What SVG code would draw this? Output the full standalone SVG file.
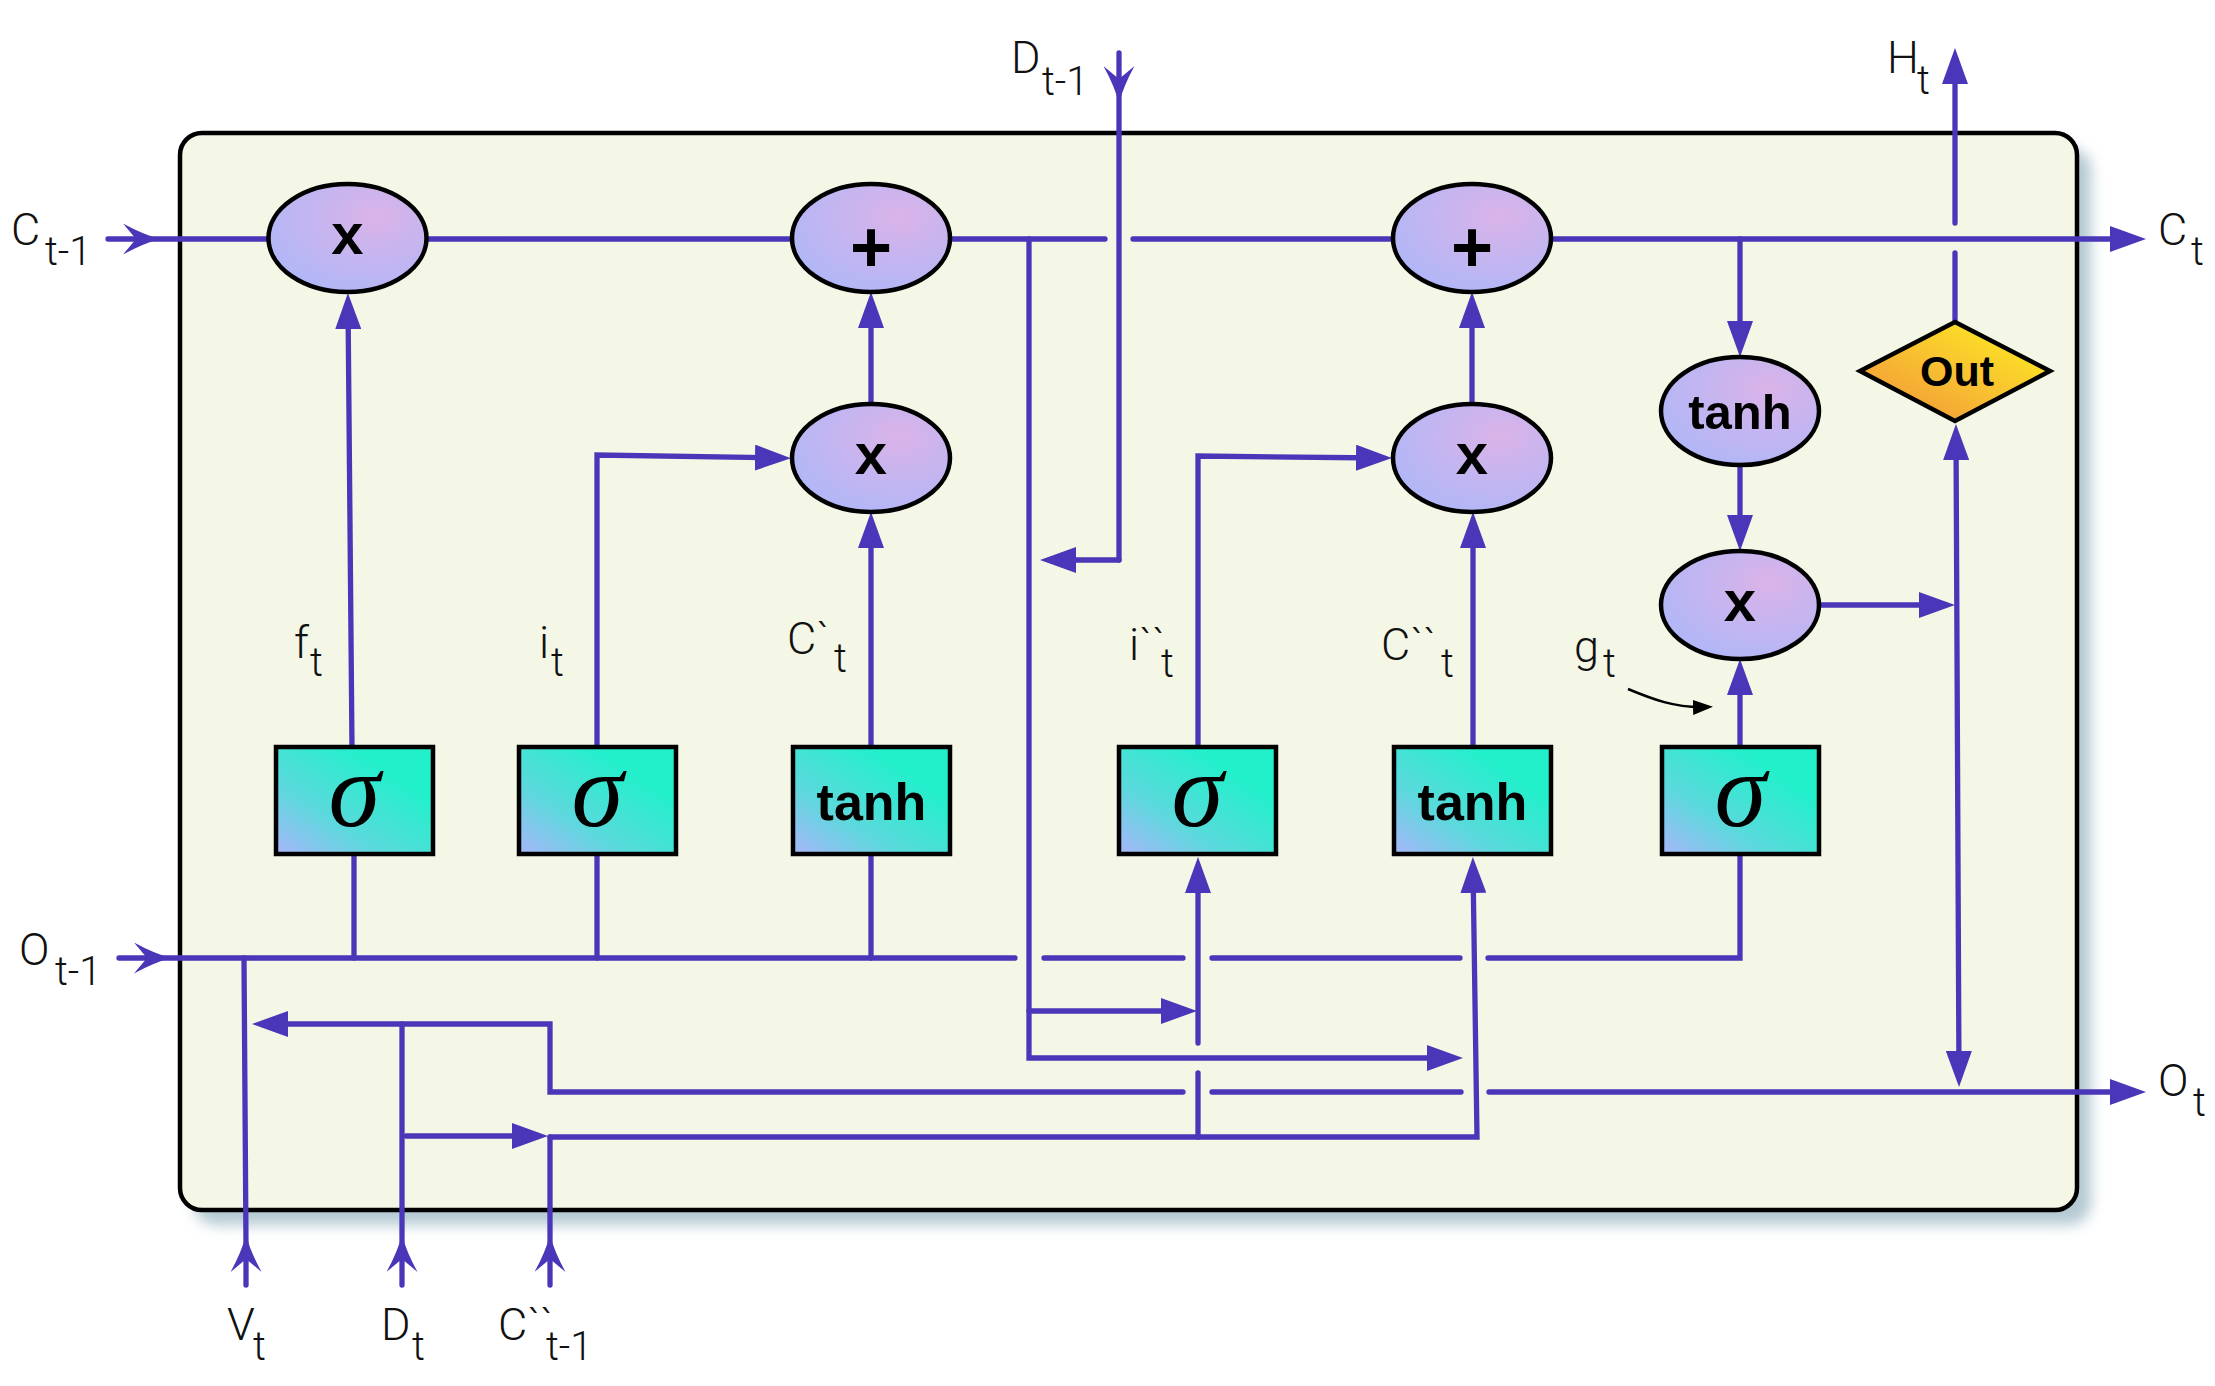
<svg xmlns="http://www.w3.org/2000/svg" width="2215" height="1386" viewBox="0 0 2215 1386">
<style>
.c{fill:none;stroke:#4a36b8;stroke-width:5.3;stroke-linecap:round;stroke-linejoin:miter}
.ell{stroke:#000;stroke-width:4.5;fill:url(#gEll)}
.box{stroke:#000;stroke-width:4.5;fill:url(#gBox)}
.dia{stroke:#000;stroke-width:4.5;fill:url(#gDia)}
.op{font-family:"Liberation Sans",Arial,sans-serif;font-weight:bold;text-anchor:middle;fill:#000}
.sig{font-family:"Liberation Serif","Times New Roman",serif;font-style:italic;font-size:105px;text-anchor:middle;fill:#000}
.lab{font-family:Roboto,"Liberation Sans",sans-serif;font-weight:300;font-size:45px;fill:#111}
.sub{font-size:40px}
</style>
<defs>
<radialGradient id="gEll" cx="0.68" cy="0.3" r="0.8">
<stop offset="0" stop-color="#dab3e8"/>
<stop offset="1" stop-color="#afb7f8"/>
</radialGradient>
<linearGradient id="gBox" x1="0" y1="1" x2="0.75" y2="0.25">
<stop offset="0" stop-color="#a8b6fb"/>
<stop offset="0.45" stop-color="#5bd9dc"/>
<stop offset="1" stop-color="#22f0cb"/>
</linearGradient>
<linearGradient id="gDia" x1="0" y1="1" x2="1" y2="0">
<stop offset="0" stop-color="#f28e3a"/>
<stop offset="0.5" stop-color="#f8c231"/>
<stop offset="1" stop-color="#fff41e"/>
</linearGradient>
<filter id="blur" x="-5%" y="-5%" width="110%" height="110%">
<feGaussianBlur stdDeviation="7"/>
</filter>
<marker id="arr" viewBox="0 0 36 26" markerWidth="36" markerHeight="26" refX="26" refY="13" orient="auto-start-reverse" markerUnits="userSpaceOnUse">
<path d="M0,0 L36,13 L0,26 Z" fill="#4a36b8"/>
</marker>
<marker id="stl" viewBox="0 0 37 31" markerWidth="37" markerHeight="31" refX="27" refY="15.5" orient="auto" markerUnits="userSpaceOnUse">
<path d="M0,0 Q20,11 37,15.5 Q20,20 0,31 L13,15.5 Z" fill="#4a36b8"/>
</marker>
<marker id="barr" viewBox="0 0 20 15" markerWidth="20" markerHeight="15" refX="12" refY="7.5" orient="auto" markerUnits="userSpaceOnUse">
<path d="M0,0 L20,7.5 L0,15 Z" fill="#000"/>
</marker>
</defs>

<rect width="2215" height="1386" fill="#fff"/>

<g id="cell">
<rect x="194" y="148" width="1897" height="1077" rx="22" fill="#b3c9d2" filter="url(#blur)"/>
<rect x="180" y="133" width="1897" height="1077" rx="22" fill="#f4f7e6" stroke="#000" stroke-width="4.5"/>
</g>

<g id="connectors">
<!-- C line -->
<path class="c" d="M108,239 L150,239 L268,239" marker-mid="url(#stl)"/>
<path class="c" d="M427,239 H792"/>
<path class="c" d="M950,239 H1105"/>
<path class="c" d="M1133,239 H1393"/>
<path class="c" d="M1551,239 H2136" marker-end="url(#arr)"/>
<!-- D t-1 -->
<path class="c" d="M1119,53 L1119,93 L1119,560" marker-mid="url(#stl)"/>
<path class="c" d="M1119,560 H1050" marker-end="url(#arr)"/>
<!-- branch from C line -->
<path class="c" d="M1029,239 V1058 H1453" marker-end="url(#arr)"/>
<path class="c" d="M1029,1011 H1187" marker-end="url(#arr)"/>
<!-- O line -->
<path class="c" d="M119,958 L161,958 L1015,958" marker-mid="url(#stl)"/>
<path class="c" d="M1044,958 H1183"/>
<path class="c" d="M1212,958 H1460"/>
<path class="c" d="M1488,958 H1740 V854"/>
<path class="c" d="M354,958 V854"/>
<path class="c" d="M597,958 V854"/>
<path class="c" d="M871,958 V854"/>
<!-- gates up -->
<path class="c" d="M352,747 L348,303" marker-end="url(#arr)"/>
<path class="c" d="M597,747 V455 L781,458" marker-end="url(#arr)"/>
<path class="c" d="M871,747 V522" marker-end="url(#arr)"/>
<path class="c" d="M871,405 V302" marker-end="url(#arr)"/>
<path class="c" d="M1198,747 V456 L1382,458" marker-end="url(#arr)"/>
<path class="c" d="M1473,747 V522" marker-end="url(#arr)"/>
<path class="c" d="M1472,405 V302" marker-end="url(#arr)"/>
<path class="c" d="M1740,239 V347" marker-end="url(#arr)"/>
<path class="c" d="M1740,465 V541" marker-end="url(#arr)"/>
<path class="c" d="M1740,747 V669" marker-end="url(#arr)"/>
<path class="c" d="M1819,605 H1945" marker-end="url(#arr)"/>
<path class="c" d="M1956,434 L1959,1077" marker-start="url(#arr)" marker-end="url(#arr)"/>
<path class="c" d="M1955,322 V253"/>
<path class="c" d="M1955,223 V58" marker-end="url(#arr)"/>
<!-- bottom inputs -->
<path class="c" d="M246,1285 L246,1245 L244,958" marker-mid="url(#stl)"/>
<path class="c" d="M402,1285 L402,1245 L402,1024" marker-mid="url(#stl)"/>
<path class="c" d="M550,1285 L550,1245 L550,1137" marker-mid="url(#stl)"/>
<path class="c" d="M262,1024 H550 V1092 H1183" marker-start="url(#arr)"/>
<path class="c" d="M1212,1092 H1461"/>
<path class="c" d="M1489,1092 H2136" marker-end="url(#arr)"/>
<path class="c" d="M406,1136 H538" marker-end="url(#arr)"/>
<path class="c" d="M550,1137 H1477 L1473,867" marker-end="url(#arr)"/>
<path class="c" d="M1198,1137 V1073"/>
<path class="c" d="M1198,1043 V867" marker-end="url(#arr)"/>
<!-- g_t pointer -->
<path d="M1628,689 C1652,699 1675,708 1705,707" fill="none" stroke="#000" stroke-width="2.5" marker-end="url(#barr)"/>
</g>

<g id="n-mul-f"><ellipse class="ell" cx="347.5" cy="238" rx="79" ry="54"/><text class="op" x="347.5" y="254" font-size="58">x</text></g>
<g id="n-add-1"><ellipse class="ell" cx="871" cy="238" rx="79" ry="54"/><text class="op" x="871" y="272" font-size="72">+</text></g>
<g id="n-mul-i"><ellipse class="ell" cx="871" cy="458" rx="79" ry="54"/><text class="op" x="871" y="474" font-size="58">x</text></g>
<g id="n-add-2"><ellipse class="ell" cx="1472" cy="238" rx="79" ry="54"/><text class="op" x="1472" y="272" font-size="72">+</text></g>
<g id="n-mul-i2"><ellipse class="ell" cx="1472" cy="458" rx="79" ry="54"/><text class="op" x="1472" y="474" font-size="58">x</text></g>
<g id="n-tanh-c"><ellipse class="ell" cx="1740" cy="411" rx="79" ry="54"/><text class="op" x="1740" y="429" font-size="49">tanh</text></g>
<g id="n-mul-g"><ellipse class="ell" cx="1740" cy="605" rx="79" ry="54"/><text class="op" x="1740" y="621" font-size="58">x</text></g>
<g id="n-out"><polygon class="dia" points="1955,322 2050,371 1955,421 1860,371"/><text class="op" x="1957" y="386" font-size="43">Out</text></g>

<g id="b-f"><rect class="box" x="276" y="747" width="157" height="107"/><text class="sig" x="354.5" y="826">σ</text></g>
<g id="b-i"><rect class="box" x="519" y="747" width="157" height="107"/><text class="sig" x="597.5" y="826">σ</text></g>
<g id="b-c"><rect class="box" x="793" y="747" width="157" height="107"/><text class="op" x="871.5" y="820" font-size="52">tanh</text></g>
<g id="b-i2"><rect class="box" x="1119" y="747" width="157" height="107"/><text class="sig" x="1197.5" y="826">σ</text></g>
<g id="b-c2"><rect class="box" x="1394" y="747" width="157" height="107"/><text class="op" x="1472.5" y="820" font-size="52">tanh</text></g>
<g id="b-g"><rect class="box" x="1662" y="747" width="157" height="107"/><text class="sig" x="1740.5" y="826">σ</text></g>

<g id="labels">
<text class="lab" x="11" y="245">C<tspan class="sub" x="45" y="265">t-1</tspan></text>
<text class="lab" x="1011" y="73">D<tspan class="sub" x="1042" y="95">t-1</tspan></text>
<text class="lab" x="1887" y="73">H<tspan class="sub" x="1917" y="94">t</tspan></text>
<text class="lab" x="2158" y="245">C<tspan class="sub" x="2191" y="265">t</tspan></text>
<text class="lab" x="19" y="965">O<tspan class="sub" x="55" y="985">t-1</tspan></text>
<text class="lab" x="2158" y="1096">O<tspan class="sub" x="2193" y="1116">t</tspan></text>
<text class="lab" x="227" y="1340">V<tspan class="sub" x="253" y="1360">t</tspan></text>
<text class="lab" x="381" y="1340">D<tspan class="sub" x="412" y="1360">t</tspan></text>
<text class="lab" x="498" y="1340">C``<tspan class="sub" x="546" y="1360">t-1</tspan></text>
<text class="lab" x="294" y="658">f<tspan class="sub" x="310" y="676">t</tspan></text>
<text class="lab" x="539" y="658">i<tspan class="sub" x="551" y="676">t</tspan></text>
<text class="lab" x="787" y="654">C`<tspan class="sub" x="834" y="672">t</tspan></text>
<text class="lab" x="1129" y="660">i``<tspan class="sub" x="1161" y="677">t</tspan></text>
<text class="lab" x="1381" y="660">C``<tspan class="sub" x="1441" y="677">t</tspan></text>
<text class="lab" x="1574" y="662">g<tspan class="sub" x="1603" y="677">t</tspan></text>
</g>
</svg>
